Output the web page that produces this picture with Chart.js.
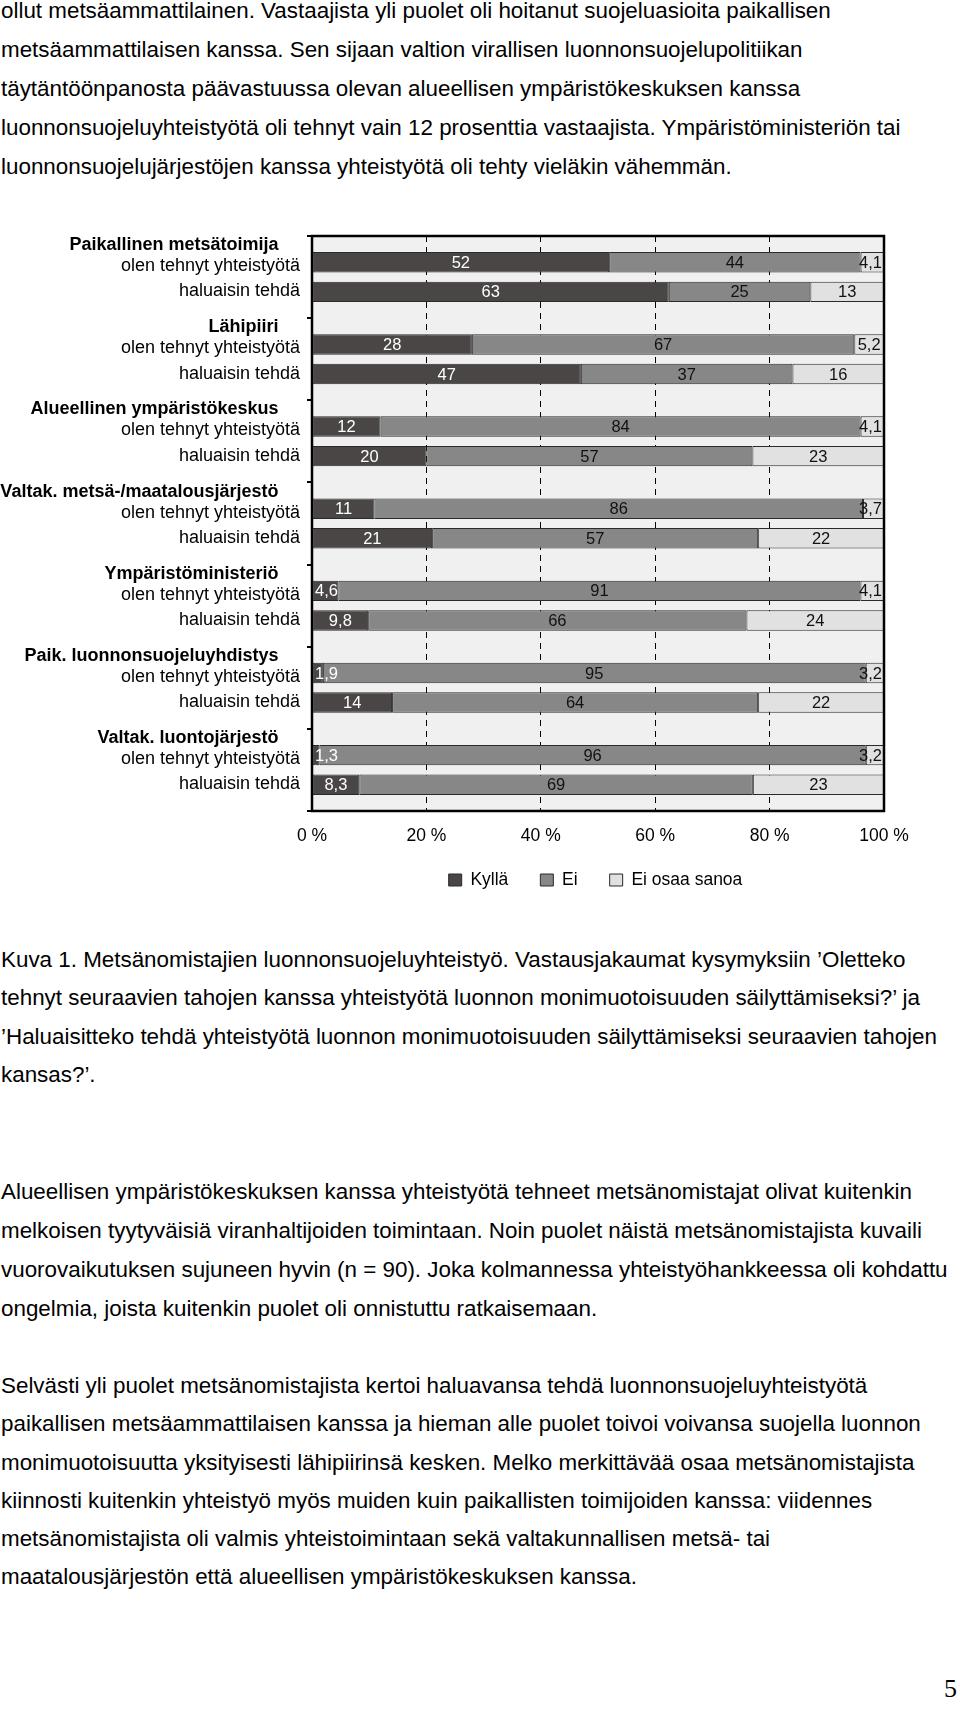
<!DOCTYPE html>
<html><head><meta charset="utf-8">
<script src="https://cdn.jsdelivr.net/npm/chart.js@4.4.0/dist/chart.umd.min.js"></script>
<style>
html,body{margin:0;padding:0;background:#fff;}
body{width:960px;height:1717px;position:relative;overflow:hidden;font-family:"Liberation Sans",Arial,sans-serif;color:#000;}
.p{position:absolute;left:1px;font-size:22.4px;white-space:nowrap;}
#wrap{position:absolute;left:0;top:190px;width:960px;height:720px;}
#pg{position:absolute;right:3px;top:1676px;font-family:"Liberation Serif","Times New Roman",serif;font-size:26px;line-height:26px;}
</style></head><body>
<div class="p" style="top:-7.7px;line-height:38.8px">
<div>ollut metsäammattilainen. Vastaajista yli puolet oli hoitanut suojeluasioita paikallisen</div>
<div>metsäammattilaisen kanssa. Sen sijaan valtion virallisen luonnonsuojelupolitiikan</div>
<div>täytäntöönpanosta päävastuussa olevan alueellisen ympäristökeskuksen kanssa</div>
<div>luonnonsuojeluyhteistyötä oli tehnyt vain 12 prosenttia vastaajista. Ympäristöministeriön tai</div>
<div>luonnonsuojelujärjestöjen kanssa yhteistyötä oli tehty vieläkin vähemmän.</div>
</div>
<div id="wrap"><canvas id="c" width="960" height="720"></canvas></div>
<div class="p" style="top:941px;line-height:38.4px">
<div>Kuva 1. Metsänomistajien luonnonsuojeluyhteistyö. Vastausjakaumat kysymyksiin ’Oletteko</div>
<div>tehnyt seuraavien tahojen kanssa yhteistyötä luonnon monimuotoisuuden säilyttämiseksi?’ ja</div>
<div>’Haluaisitteko tehdä yhteistyötä luonnon monimuotoisuuden säilyttämiseksi seuraavien tahojen</div>
<div>kansas?’.</div>
</div>
<div class="p" style="top:1173px;line-height:38.9px">
<div>Alueellisen ympäristökeskuksen kanssa yhteistyötä tehneet metsänomistajat olivat kuitenkin</div>
<div>melkoisen tyytyväisiä viranhaltijoiden toimintaan. Noin puolet näistä metsänomistajista kuvaili</div>
<div>vuorovaikutuksen sujuneen hyvin (n = 90). Joka kolmannessa yhteistyöhankkeessa oli kohdattu</div>
<div>ongelmia, joista kuitenkin puolet oli onnistuttu ratkaisemaan.</div>
</div>
<div class="p" style="top:1367px;line-height:38.3px">
<div>Selvästi yli puolet metsänomistajista kertoi haluavansa tehdä luonnonsuojeluyhteistyötä</div>
<div>paikallisen metsäammattilaisen kanssa ja hieman alle puolet toivoi voivansa suojella luonnon</div>
<div>monimuotoisuutta yksityisesti lähipiirinsä kesken. Melko merkittävää osaa metsänomistajista</div>
<div>kiinnosti kuitenkin yhteistyö myös muiden kuin paikallisten toimijoiden kanssa: viidennes</div>
<div>metsänomistajista oli valmis yhteistoimintaan sekä valtakunnallisen metsä- tai</div>
<div>maatalousjärjestön että alueellisen ympäristökeskuksen kanssa.</div>
</div>
<div id="pg">5</div>
<script>
const groupNames = ['Paikallinen metsätoimija','Lähipiiri','Alueellinen ympäristökeskus','Valtak. metsä-/maatalousjärjestö','Ympäristöministeriö','Paik. luonnonsuojeluyhdistys','Valtak. luontojärjestö'];
const rowNames = ['olen tehnyt yhteistyötä','haluaisin tehdä'];
const seriesNames = ['Kyllä','Ei','Ei osaa sanoa'];
// "olen tehnyt yhteistyötä"
const kyllaOlen = [52, 28, 12, 11, 4.6, 1.9, 1.3];
const eiOlen    = [44, 67, 84, 86, 91, 95, 96];
const eosOlen   = [4.1, 5.2, 4.1, 3.7, 4.1, 3.2, 3.2];
// "haluaisin tehdä"
const kyllaHalu = [63, 47, 20, 21, 9.8, 14, 8.3];
const eiHalu    = [25, 37, 57, 57, 66, 64, 69];
const eosHalu   = [13, 16, 23, 22, 24, 22, 23];
const xTickLabels = ['0 %','20 %','40 %','60 %','80 %','100 %'];

const FONT = '"Liberation Sans", Arial, sans-serif';
const colors = ['#4a4646','#878787','#e1e1e1'];
const labelColors = ['#ffffff','#111111','#111111'];
Chart.defaults.font.family = FONT;

function fmt(v){ return String(v).replace('.', ','); }
function toPct(rows){
  const tot = rows[0].map((_, i) => rows.reduce((s, r) => s + r[i], 0));
  return rows.map(r => r.map((v, i) => v / tot[i] * 100));
}
const olenRaw = [kyllaOlen, eiOlen, eosOlen];
const haluRaw = [kyllaHalu, eiHalu, eosHalu];
const datasets = [];
[['olen', olenRaw], ['halu', haluRaw]].forEach(([stack, raw]) => {
  const p = toPct(raw);
  raw.forEach((r, k) => {
    datasets.push({
      label: seriesNames[k], stack, data: p[k], valueLabels: r, series: k,
      backgroundColor: colors[k], borderColor: '#2a2a2a', borderWidth: 1, borderSkipped: false,
      categoryPercentage: 0.72, barPercentage: 0.69
    });
  });
});

const LEGEND_SHIFT = 7.75;
const framePlugin = {
  id: 'framePlugin',
  afterLayout(chart){
    if (chart.legend) { chart.legend.top -= LEGEND_SHIFT; chart.legend.bottom -= LEGEND_SHIFT; }
  },
  beforeDraw(chart){
    const {ctx, chartArea: a} = chart;
    ctx.save(); ctx.fillStyle = '#f0f0f0';
    ctx.fillRect(a.left, a.top, a.right - a.left, a.bottom - a.top);
    ctx.restore();
  },
  afterDatasetsDraw(chart){
    const {ctx, chartArea: a} = chart;
    ctx.save();
    ctx.font = '16.5px ' + FONT;
    ctx.textAlign = 'center'; ctx.textBaseline = 'middle';
    chart.data.datasets.forEach((ds, di) => {
      const meta = chart.getDatasetMeta(di);
      meta.data.forEach((bar, i) => {
        const t = fmt(ds.valueLabels[i]);
        const w = ctx.measureText(t).width;
        const x0 = Math.min(bar.x, bar.base), x1 = Math.max(bar.x, bar.base);
        let cx = (x0 + x1) / 2;
        cx = Math.max(cx, a.left + w / 2 + 3);
        cx = Math.min(cx, a.right - w / 2 - 2);
        ctx.fillStyle = labelColors[ds.series];
        ctx.fillText(t, cx, bar.y + 1);
      });
    });
    ctx.strokeStyle = '#000'; ctx.lineWidth = 2.5;
    ctx.strokeRect(a.left, a.top, a.right - a.left, a.bottom - a.top);
    ctx.restore();
  },
  afterDraw(chart){
    const {ctx, chartArea: a} = chart;
    const ys = chart.scales.y;
    ctx.save(); ctx.fillStyle = '#000'; ctx.textAlign = 'right'; ctx.textBaseline = 'alphabetic';
    groupNames.forEach((g, i) => {
      const c = ys.getPixelForValue(i);
      ctx.font = 'bold 18px ' + FONT;
      ctx.fillText(g, a.left - 33.5, c - 27);
      ctx.font = '18px ' + FONT;
      ctx.fillText(rowNames[0], a.left - 12, c - 6);
      ctx.fillText(rowNames[1], a.left - 12, c + 19.3);
    });
    ctx.restore();
  }
};

new Chart(document.getElementById('c'), {
  type: 'bar',
  data: { labels: groupNames, datasets },
  options: {
    indexAxis: 'y', responsive: false, animation: false,
    layout: { padding: { top: 46, left: 307, right: 76, bottom: 3.5 } },
    plugins: {
      legend: { position: 'bottom',
        labels: { filter: (item) => item.datasetIndex < 3, color: '#000', font: { size: 17.5, family: FONT },
                  boxWidth: 13, boxHeight: 12, padding: 32 } },
      tooltip: { enabled: false }
    },
    scales: {
      x: { stacked: true, min: 0, max: 100,
        ticks: { stepSize: 20, color: '#000', font: { size: 17.5, family: FONT }, padding: 15,
                 callback: (v, i) => xTickLabels[i] },
        grid: { color: (ctx) => (ctx.tick && (ctx.tick.value === 0 || ctx.tick.value === 100)) ? 'rgba(0,0,0,0)' : '#000',
                lineWidth: 1, drawTicks: false },
        border: { display: false, dash: [6, 5] },
        afterFit: (s) => { s.height = 36; } },
      y: { stacked: true, ticks: { display: false },
        grid: { drawOnChartArea: false, drawTicks: true, tickLength: 5, color: '#000', lineWidth: 2 },
        border: { display: false } }
    }
  },
  plugins: [framePlugin]
});
</script>
</body></html>
